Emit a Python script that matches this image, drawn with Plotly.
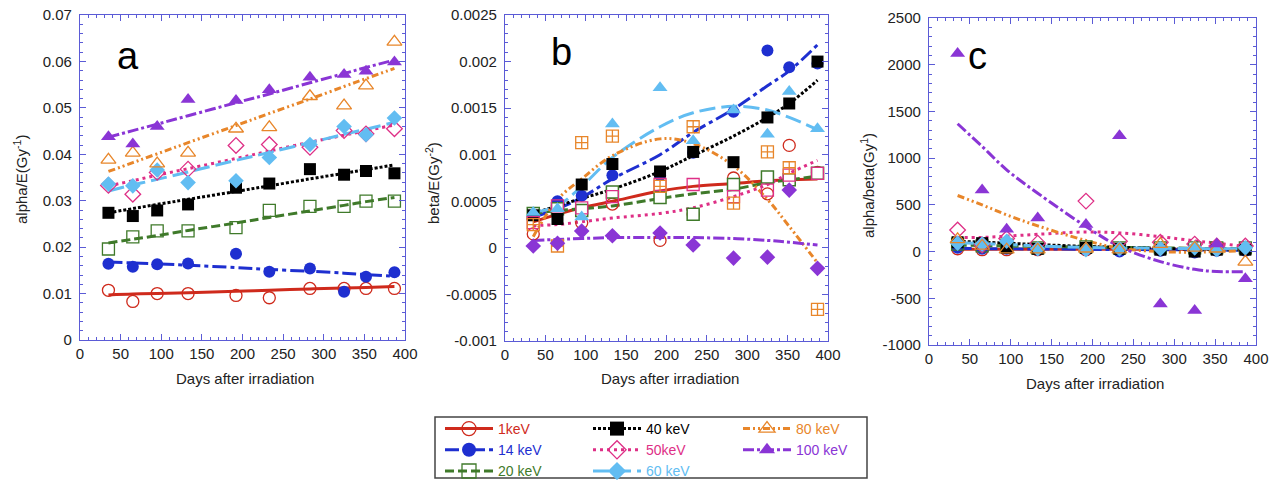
import plotly.graph_objects as go

W, H = 1281, 480

days = [35, 65, 95, 133, 192, 233, 283, 325, 352, 387]

# ---------- panel a : alpha/E ----------
a_1keV = [0.0107, 0.0083, 0.0100, 0.0100, 0.0096, 0.0091, 0.0111, 0.0111, 0.0111, 0.0111]
a_14keV = [0.0164, 0.0158, 0.0163, 0.0165, 0.0186, 0.0147, 0.0154, 0.0104, 0.0136, 0.0146]
a_20keV = [0.0196, 0.0222, 0.0235, 0.0235, 0.0242, 0.0279, 0.0288, 0.0288, 0.0299, 0.0299]
a_40keV = [0.0274, 0.0267, 0.0279, 0.0292, 0.0328, 0.0337, 0.0368, 0.0356, 0.0364, 0.0359]
a_50keV = [0.0333, 0.0314, 0.0361, 0.0368, 0.0419, 0.0421, 0.0415, 0.0451, 0.0444, 0.0455]
a_60keV = [0.0336, 0.0332, 0.0366, 0.0339, 0.0343, 0.0393, 0.0421, 0.0460, 0.0442, 0.0478]
a_80keV = [0.0388, 0.0403, 0.0380, 0.0403, 0.0455, 0.0458, 0.0525, 0.0505, 0.0548, 0.0642]
a_100keV = [0.0438, 0.0422, 0.0460, 0.0518, 0.0516, 0.0539, 0.0566, 0.0572, 0.0579, 0.0599]

fa_1keV = [0.0097, 0.0099, 0.0100, 0.0102, 0.0105, 0.0107, 0.0110, 0.0112, 0.0113, 0.0115]
fa_14keV = [0.0168, 0.0166, 0.0164, 0.0161, 0.0156, 0.0152, 0.0148, 0.0144, 0.0141, 0.0137]
fa_20keV = [0.0209, 0.0217, 0.0225, 0.0236, 0.0252, 0.0264, 0.0278, 0.0290, 0.0298, 0.0307]
fa_40keV = [0.0274, 0.0283, 0.0292, 0.0303, 0.0320, 0.0332, 0.0347, 0.0359, 0.0367, 0.0377]
fa_50keV = [0.0332, 0.0343, 0.0355, 0.0369, 0.0391, 0.0407, 0.0426, 0.0441, 0.0451, 0.0463]
fa_60keV = [0.0321, 0.0334, 0.0346, 0.0362, 0.0387, 0.0404, 0.0425, 0.0443, 0.0454, 0.0469]
fa_80keV = [0.0363, 0.0382, 0.0401, 0.0425, 0.0462, 0.0488, 0.0519, 0.0546, 0.0563, 0.0585]
fa_100keV = [0.0437, 0.0451, 0.0465, 0.0483, 0.0511, 0.0530, 0.0554, 0.0574, 0.0587, 0.0603]

# ---------- panel b : beta/E ----------
b_1keV = [0.00015, 0.00045, 0.00027, 0.00047, 0.00008, 0.00036, 0.00075, 0.00058, 0.00110, 0.00081]
b_14keV = [0.00037, 0.00050, 0.00056, 0.00078, 0.00078, 0.00102, 0.00146, 0.00212, 0.00194, 0.00198]
b_20keV = [0.00037, 0.00042, 0.00040, 0.00060, 0.00054, 0.00036, 0.00068, 0.00076, 0.00073, 0.00080]
b_40keV = [0.00035, 0.00031, 0.00068, 0.00090, 0.00082, 0.00103, 0.00092, 0.00140, 0.00155, 0.00200]
b_50keV = [0.00027, 0.00045, 0.00043, 0.00055, 0.00068, 0.00068, 0.00055, 0.00062, 0.00078, 0.00080]
b_60keV = [0.00038, 0.00042, 0.00033, 0.00133, 0.00172, 0.00115, 0.00148, 0.00122, 0.00168, 0.00128]
b_80keV = [0.00025, 0.00002, 0.00113, 0.00120, 0.00066, 0.00130, 0.00048, 0.00103, 0.00086, -0.00066]
b_100keV = [0.00002, 0.00005, 0.00018, 0.00013, 0.00016, 0.00003, -0.00011, -0.00010, 0.00062, -0.00022]

fb_1keV = [0.00028, 0.00036, 0.00043, 0.00050, 0.00061, 0.00066, 0.00069, 0.00072, 0.00073, 0.00074]
fb_14keV = [0.00033, 0.00042, 0.00054, 0.00074, 0.00100, 0.00124, 0.00149, 0.00174, 0.00190, 0.00218]
fb_20keV = [0.00037, 0.00040, 0.00042, 0.00045, 0.00053, 0.00058, 0.00063, 0.00070, 0.00073, 0.00077]
fb_40keV = [0.00037, 0.00045, 0.00053, 0.00063, 0.00082, 0.00099, 0.00120, 0.00140, 0.00155, 0.00180]
fb_50keV = [0.00024, 0.00025, 0.00028, 0.00032, 0.00037, 0.00043, 0.00055, 0.00068, 0.00080, 0.00094]
fb_60keV = [0.00038, 0.00045, 0.00066, 0.00097, 0.00130, 0.00145, 0.00152, 0.00148, 0.00140, 0.00127]
fb_80keV = [0.00012, 0.00052, 0.00074, 0.00099, 0.00117, 0.00112, 0.00088, 0.00052, 0.00023, -0.00016]
fb_100keV = [0.00008, 0.00009, 0.00010, 0.00011, 0.00011, 0.00011, 0.00010, 0.00008, 0.00006, 0.00003]

# ---------- panel c : alpha/beta ----------
c_1keV = [30, 20, 20, 20, 20, 20, 20, 20, 20, 20]
c_14keV = [40, 30, 30, 20, 20, 0, 10, -10, 10, 10]
c_20keV = [80, 60, 70, 40, 50, 40, 40, 40, 40, 40]
c_40keV = [100, 90, 40, 30, 40, 30, 20, 0, 20, 20]
c_50keV = [230, 70, 140, 90, 540, 110, 100, 80, 60, 60]
c_60keV = [90, 80, 110, 30, 20, 30, 30, 40, 20, 40]
c_80keV = [130, 60, 20, 20, 30, 20, 80, 40, 30, -110]
c_100keV = [2120, 660, 240, 360, 290, 1240, -560, -630, 80, -290]

fc_1keV = [25, 25, 25, 25, 25, 25, 25, 25, 25, 25]
fc_14keV = [35, 32, 30, 28, 25, 22, 20, 18, 16, 15]
fc_20keV = [70, 65, 60, 55, 50, 45, 40, 35, 33, 30]
fc_40keV = [110, 100, 90, 75, 55, 45, 35, 25, 22, 18]
fc_50keV = [150, 152, 165, 185, 210, 200, 160, 115, 90, 55]
fc_60keV = [95, 85, 75, 60, 45, 40, 35, 32, 30, 30]
fc_80keV = [600, 500, 393, 275, 118, 36, 0, -7, 0, 10]
fc_100keV = [1368, 1125, 875, 625, 268, 54, -107, -190, -214, -214]

names = ["1keV", "14 keV", "20 keV", "40 keV", "50keV", "60 keV", "80 keV", "100 keV"]
colors = ["#cf2a1c", "#1e2fd0", "#3f7a2a", "#000000", "#de2f86", "#62bdf2", "#e8862a", "#8a35d5"]
dashes = ["solid", "14px,4px,4px,4px", "9px,4px", "3px,2px", "3px,4px", "16px,6px",
          "7px,3px,2px,3px,2px,3px", "11px,3px,3px,3px"]
sym_ac = ["circle-open", "circle", "square-open", "square", "diamond-open", "diamond",
          "triangle-up-open", "triangle-up"]
sym_b = ["circle-open", "circle", "square", "square", "square-open", "triangle-up",
         "square-cross-open", "diamond"]

A = [a_1keV, a_14keV, a_20keV, a_40keV, a_50keV, a_60keV, a_80keV, a_100keV]
FA = [fa_1keV, fa_14keV, fa_20keV, fa_40keV, fa_50keV, fa_60keV, fa_80keV, fa_100keV]
B = [b_1keV, b_14keV, b_20keV, b_40keV, b_50keV, b_60keV, b_80keV, b_100keV]
FB = [fb_1keV, fb_14keV, fb_20keV, fb_40keV, fb_50keV, fb_60keV, fb_80keV, fb_100keV]
C = [c_1keV, c_14keV, c_20keV, c_40keV, c_50keV, c_60keV, c_80keV, c_100keV]
FC = [fc_1keV, fc_14keV, fc_20keV, fc_40keV, fc_50keV, fc_60keV, fc_80keV, fc_100keV]

b_ticks = [-0.001, -0.0005, 0, 0.0005, 0.001, 0.0015, 0.002, 0.0025]
b_ticktext = ["-0.001", "-0.0005", "0", "0.0005", "0.001", "0.0015", "0.002", "0.0025"]
c_ticks = [-1000, -500, 0, 500, 1000, 1500, 2000, 2500]
c_ticktext = ["-1000", "-500", "0", "500", "1000", "1500", "2000", "2500"]

fig = go.Figure()


def marker_for(i, sym, size=12):
    col = colors[i]
    if sym.endswith("-open"):
        return dict(symbol=sym, size=size, color=col, line=dict(width=1.3, color=col))
    if i == 2 and sym == "square":
        return dict(symbol="square", size=size, color="white", line=dict(width=1.5, color=col))
    return dict(symbol=sym, size=size, color=col, line=dict(width=0))


panels = [("x", "y", A, FA, sym_ac), ("x2", "y2", B, FB, sym_b), ("x3", "y3", C, FC, sym_ac)]
for xa, ya, P, FP, syms in panels:
    for i in range(8):
        fig.add_trace(go.Scatter(x=days, y=FP[i], mode="lines", xaxis=xa, yaxis=ya,
                                 line=dict(color=colors[i], width=3, dash=dashes[i], shape="spline"),
                                 showlegend=False, hoverinfo="skip"))
    for i in range(8):
        fig.add_trace(go.Scatter(x=days, y=P[i], mode="markers", xaxis=xa, yaxis=ya,
                                 marker=marker_for(i, syms[i], 13 if "triangle" in syms[i] else 12),
                                 showlegend=False))

# legend entries (three columns)
legend_groups = ["legend", "legend", "legend", "legend2", "legend2", "legend2", "legend3", "legend3"]
for i in range(8):
    fig.add_trace(go.Scatter(x=[None], y=[None], mode="lines+markers", xaxis="x", yaxis="y",
                             name=f"<span style='color:{colors[i]}'>{names[i]}</span>",
                             line=dict(color=colors[i], width=3, dash=dashes[i]),
                             marker=marker_for(i, sym_ac[i], 14),
                             legend=legend_groups[i], showlegend=True))

axis_col = "#5b5bd6"


def xax(x0, x1, anchor):
    return dict(domain=[x0 / W, x1 / W], anchor=anchor, range=[0, 400], dtick=50, tick0=0,
                showline=True, linecolor=axis_col, linewidth=1.2, mirror="ticks",
                ticks="inside", ticklen=6, tickcolor=axis_col, showgrid=False, zeroline=False,
                tickfont=dict(size=15, color="#222"),
                minor=dict(dtick=10, ticks="inside", ticklen=3, tickcolor=axis_col, showgrid=False))


def yax(y_top, y_bot, anchor, rng, **kw):
    d = dict(domain=[1 - y_bot / H, 1 - y_top / H], anchor=anchor, range=rng,
             showline=True, linecolor=axis_col, linewidth=1.2, mirror="ticks",
             ticks="inside", ticklen=6, tickcolor=axis_col, showgrid=False, zeroline=False,
             tickfont=dict(size=15, color="#222"), ticklabelstandoff=4)
    d.update(kw)
    return d


legend_common = dict(bgcolor="rgba(0,0,0,0)", borderwidth=0,
                     font=dict(size=14, family="Liberation Sans, Arial"),
                     tracegroupgap=0, itemwidth=48, yanchor="top", xanchor="left",
                     orientation="v")

fig.update_layout(
    width=W, height=H, margin=dict(l=0, r=0, t=0, b=0, autoexpand=False),
    paper_bgcolor="white", plot_bgcolor="white",
    font=dict(family="Liberation Sans, Arial", color="#222"),
    xaxis=xax(80, 405, "y"),
    xaxis2=xax(505, 828, "y2"),
    xaxis3=xax(929, 1256, "y3"),
    yaxis=yax(15, 340, "x", [0, 0.07], dtick=0.01, tick0=0,
              minor=dict(dtick=0.002, ticks="inside", ticklen=3, tickcolor=axis_col, showgrid=False)),
    yaxis2=yax(15, 341, "x2", [-0.001, 0.0025], tickvals=b_ticks, ticktext=b_ticktext,
               minor=dict(dtick=0.0001, tick0=0, ticks="inside", ticklen=3, tickcolor=axis_col, showgrid=False)),
    yaxis3=yax(18, 345, "x3", [-1000, 2500], tickvals=c_ticks, ticktext=c_ticktext,
               minor=dict(dtick=100, tick0=0, ticks="inside", ticklen=3, tickcolor=axis_col, showgrid=False)),
    legend=dict(x=440 / W, y=1 - 413 / H, **legend_common),
    legend2=dict(x=588 / W, y=1 - 413 / H, **legend_common),
    legend3=dict(x=738 / W, y=1 - 413 / H, **legend_common),
    showlegend=True,
)

fig.add_shape(type="rect", xref="paper", yref="paper", x0=435 / W, x1=867 / W,
              y0=1 - 478 / H, y1=1 - 417 / H, line=dict(color="#444", width=1.5))

ann = []
for txt, px, py in [("a", 128, 56), ("b", 561, 52), ("c", 977, 56)]:
    ann.append(dict(text=txt, x=px / W, y=1 - py / H, xref="paper", yref="paper",
                    xanchor="center", yanchor="middle",
                    showarrow=False, font=dict(size=38, color="#000")))
for px, py in [(245, 378), (670, 378), (1095, 383)]:
    ann.append(dict(text="Days after irradiation", x=px / W, y=1 - py / H, xref="paper", yref="paper",
                    xanchor="center", yanchor="middle",
                    showarrow=False, font=dict(size=15, color="#222")))
for txt, px, py in [("alpha/E(Gy<sup>-1</sup>)", 20, 180), ("beta/E(Gy<sup>-2</sup>)", 432, 183),
                    ("alpha/beta(Gy<sup>1</sup>)", 868, 186)]:
    ann.append(dict(text=txt, x=px / W, y=1 - py / H, xref="paper", yref="paper", textangle=-90,
                    xanchor="center", yanchor="middle",
                    showarrow=False, font=dict(size=15, color="#222")))
fig.update_layout(annotations=ann)

fig.write_html("out.html")
